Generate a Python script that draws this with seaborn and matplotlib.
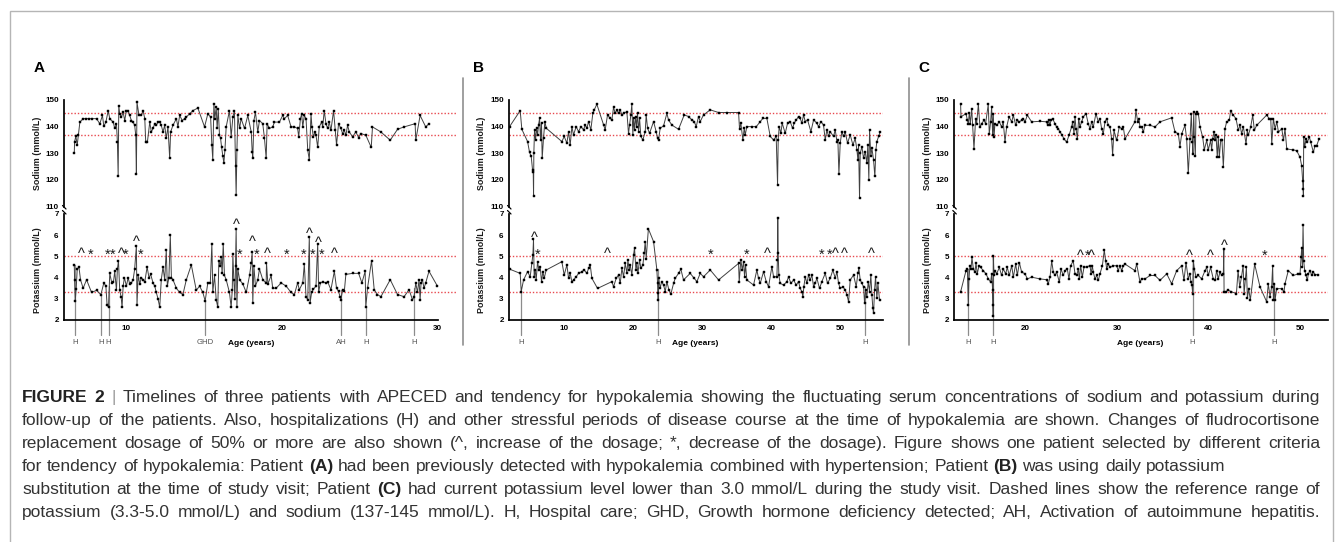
import matplotlib
matplotlib.use("Agg")
import matplotlib.pyplot as plt
import matplotlib.transforms as mtransforms
from matplotlib.lines import Line2D
from matplotlib.patches import Rectangle
import seaborn as sns
import pandas as pd

# ---------------- DATA ----------------
# Patient A
a_na_age = [6.66,6.68,6.76,6.85,6.93,7.02,7.23,7.40,7.60,7.79,8.09,8.30,8.47,8.56,8.69,8.84,8.94,9.16,9.26,9.37,9.43,9.48,9.52,9.58,9.69,9.80,9.90,10.01,10.12,10.22,10.33,10.44,10.54,10.61,10.65,10.69,10.82,10.97,11.08,11.19,11.25,11.36,11.51,11.61,11.72,11.83,11.93,12.04,12.15,12.25,12.36,12.47,12.57,12.68,12.79,12.85,13.00,13.22,13.32,13.43,13.60,13.75,13.86,14.07,14.28,14.60,15.03,15.24,15.42,15.50,15.56,15.63,15.69,15.78,15.84,15.91,15.99,16.06,16.12,16.21,16.27,16.34,16.42,16.63,16.74,16.85,16.95,17.02,17.06,17.11,17.17,17.28,17.38,17.60,17.81,18.03,18.09,18.13,18.20,18.30,18.45,18.56,18.77,18.88,18.99,19.05,19.20,19.41,19.52,19.84,20.05,20.16,20.37,20.59,20.80,21.01,21.08,21.19,21.27,21.34,21.44,21.55,21.66,21.76,21.87,21.93,22.02,22.13,22.19,22.30,22.40,22.55,22.62,22.72,22.83,22.94,23.04,23.15,23.32,23.43,23.51,23.64,23.79,23.90,24.01,24.11,24.22,24.33,24.54,24.75,24.93,25.07,25.39,25.74,25.82,26.36,26.96,27.43,27.85,28.56,28.60,28.88,29.24,29.45]
a_na = [130,134.3,136.4,133.1,137,141.7,143,143,143,143,143,141.1,144.2,140.1,141.7,146,143,141.7,139.3,141.1,134.3,121.4,147.9,144.8,143.6,145.4,142.3,146,146,144.2,142.3,141.7,140.5,136.8,122.3,149.1,144.2,144.2,146,143,134.3,134.3,141.7,138,139.3,141.1,140.5,141.7,141.7,140.5,138,140.5,135.6,139.9,128.1,138,140.5,143,139.9,144.2,142.3,143,143.6,144.8,146,147,139.9,144.8,143.6,133.1,127.5,148.5,143,147.3,139.3,146.7,136.8,135.6,132.5,128.8,126.3,131.2,139.9,146,136.2,143.6,146,125.1,114.2,131.2,144.2,139.3,143,139.3,144.2,138,130.6,128.1,142.3,145.4,138,142.3,141.1,135.6,128.1,141.1,139.3,139.9,141.7,141.7,144.2,143,144.2,139.9,139.9,139.3,136.2,143,144.8,139.9,144.2,143,131.2,127.5,144.8,139.9,136.2,138,136.8,132.2,139.9,141.7,139.9,146,141.1,139.3,141.7,138.6,146,138.6,133.1,141.1,139.3,137.4,138.6,136.8,140.5,138,136.2,138,135.9,137.4,136.8,132.2,139.9,138,134.9,139,139.9,141.1,134.9,144.2,139.9,141.1]
a_k_age = [6.66,6.68,6.72,6.78,6.85,6.96,7.06,7.23,7.45,7.77,8.09,8.37,8.56,8.69,8.77,8.86,8.94,9.07,9.18,9.26,9.37,9.43,9.50,9.58,9.67,9.73,9.80,9.88,10.01,10.12,10.22,10.33,10.44,10.54,10.65,10.69,10.76,10.87,10.97,11.08,11.19,11.34,11.46,11.57,11.72,11.83,11.93,12.04,12.15,12.25,12.36,12.47,12.57,12.64,12.74,12.83,12.90,13.00,13.22,13.43,13.64,13.86,14.18,14.50,14.71,14.92,15.07,15.24,15.40,15.50,15.56,15.67,15.78,15.88,15.95,16.04,16.10,16.16,16.23,16.31,16.42,16.63,16.74,16.81,16.85,16.91,16.98,17.02,17.06,17.11,17.17,17.28,17.49,17.71,17.92,18.03,18.09,18.13,18.20,18.30,18.45,18.56,18.77,18.99,19.01,19.10,19.31,19.41,19.63,19.95,20.27,20.59,20.80,21.01,21.12,21.34,21.44,21.55,21.66,21.76,21.81,21.91,22.02,22.19,22.30,22.36,22.47,22.62,22.83,22.94,23.15,23.37,23.51,23.64,23.73,23.79,23.90,24.01,24.11,24.54,24.93,25.14,25.35,25.39,25.50,25.76,25.93,26.14,26.36,26.96,27.43,27.85,28.17,28.39,28.49,28.60,28.71,28.81,28.88,28.94,29.03,29.13,29.24,29.45,29.99]
a_k = [4.6,3.9,2.9,3.45,4.4,4.5,3.9,3.5,3.9,3.3,3.4,3.2,3.75,3.6,2.7,2.6,4.2,3.75,3.8,4.3,3.4,4.4,4.8,3.4,3.1,2.6,3.6,4.0,3.6,4.0,3.7,3.75,3.9,4.4,5.5,2.7,4.1,3.7,4.0,3.9,3.8,4.5,4.0,4.15,3.75,3.6,3.3,3.0,2.6,3.9,4.5,3.9,5.3,3.6,4.0,6.0,4.0,3.9,3.5,3.3,3.2,3.9,4.6,3.4,3.6,3.3,2.9,3.75,3.75,5.6,3.3,4.1,2.95,2.6,4.8,4.55,4.95,4.2,5.6,4.1,3.9,3.3,2.6,3.4,5.1,3.9,3.0,4.55,6.3,2.6,4.4,3.9,3.7,3.3,4.1,4.7,5.2,2.8,4.55,3.6,3.9,4.4,3.9,3.75,4.7,3.7,4.1,3.5,3.5,3.75,3.6,3.3,3.2,3.75,3.43,3.75,4.63,3.1,2.95,5.9,2.8,3.3,3.45,3.6,5.6,3.3,3.75,3.8,3.75,3.8,3.43,4.3,3.5,3.35,3.1,2.95,3.43,3.35,4.15,4.2,4.2,3.75,4.3,2.6,3.5,4.8,3.43,3.2,3.1,3.9,3.2,3.1,3.43,2.95,3.1,3.75,3.3,3.9,2.95,3.75,3.9,3.5,3.75,4.3,3.6]
a_event_age = [6.72, 8.37, 8.86, 15.07, 23.79, 25.39, 28.49]
a_event_top = [4.6, 3.2, 3.6, 2.9, 3.4, 2.6, 3.5]
a_event_lab = ["H", "H", "H", "GHD", "AH", "H", "H"]
a_sym = ["^","*","*","*","^","*","^","*","^","*","^","*","^","*","*","^","*","^","*","^"]
a_sym_age = [7.1,7.7,8.8,9.1,9.7,9.95,10.65,10.93,17.06,17.3,18.09,18.35,19.09,20.3,21.4,21.76,22.0,22.36,22.55,23.37]
a_sym_k = [5.3,5.3,5.3,5.3,5.3,5.3,5.9,5.3,6.7,5.3,5.9,5.3,5.3,5.3,5.3,6.25,5.3,5.85,5.3,5.3]

# Patient B
b_na_age = [2.08,3.62,3.86,4.69,4.98,5.22,5.41,5.51,5.56,5.60,5.70,5.85,5.99,6.14,6.28,6.43,6.57,6.71,6.81,7.00,7.20,7.40,9.66,10.00,10.39,10.63,10.87,11.11,11.35,11.74,12.08,12.42,12.80,13.04,13.29,13.53,13.86,14.15,14.35,14.73,15.70,15.94,16.28,16.67,16.91,17.15,17.39,17.63,17.87,18.12,18.36,18.60,19.08,19.32,19.47,19.66,19.80,19.95,20.05,20.19,20.34,20.48,20.63,20.77,20.92,21.11,21.40,21.74,21.88,22.08,22.37,22.95,23.33,23.53,23.67,23.91,24.40,24.88,25.12,25.60,26.57,27.39,28.02,28.50,28.84,29.13,29.47,29.71,30.19,31.16,32.37,33.57,35.27,35.41,35.60,35.89,36.09,36.23,36.47,37.20,37.83,38.41,38.79,39.37,39.86,40.34,40.72,40.92,41.01,41.16,41.40,41.59,42.03,42.37,42.75,43.09,43.33,43.62,43.96,44.20,44.44,44.69,44.93,45.27,45.75,46.14,46.62,46.86,47.20,47.58,47.83,48.07,48.31,48.55,49.03,49.28,49.52,49.66,49.81,50.00,50.24,50.48,50.72,51.06,51.45,51.84,52.17,52.42,52.56,52.66,52.80,52.90,53.14,53.38,53.62,53.86,54.00,54.15,54.25,54.44,54.59,54.83,55.02,55.17,55.31,55.56,55.80]
b_na = [140,146,139,134.4,130.3,128.8,123.8,122.9,114,130,138.8,135,139.4,136.9,140.6,143.1,135,141.3,128.1,135.6,141.9,139.4,134.4,136.3,133.8,138.1,133.1,140,136.9,140,138.1,140,138.8,140.6,139.4,141.9,138.8,145,146.3,148.4,140.6,138.8,144.4,143.1,142.5,147.3,145,146.3,145,146.3,144.4,145,145.6,137.3,140.6,144.4,148.4,136.9,143.1,138.8,143.8,140,145,138.1,143.1,136.3,135,138.1,144.4,139.4,137.5,141.9,138.1,135.6,135,139.4,140.3,145,142.5,140.6,139,144.4,143.8,142.5,141.9,140,143.8,141.9,144.4,146.3,145.3,145.3,145.3,139,141.3,135,139.4,136.9,140,140,140,141.9,143.1,143.1,136.3,135,136.3,118.1,135,140,137.5,141.3,137.5,141.3,141.9,139.4,141.3,142.5,143.8,143.1,141.3,144.4,141.9,142.5,138.1,142.5,141.3,140,141.9,140.6,135,138.8,136.3,138.1,136.3,138.8,134.4,135,122.1,133.8,138.1,136.3,138.1,133.8,136.9,133.1,135.6,131.3,127.5,133.1,113.1,130,132.5,128.1,130.6,126.3,133.1,120,138.8,128.8,131.9,127.5,121.3,131.3,134.4,136.3,138.1]
b_k_age = [2.08,3.62,3.77,4.11,4.69,5.07,5.31,5.46,5.55,5.65,5.80,5.94,6.14,6.33,6.52,6.71,6.91,7.10,7.39,9.66,10.00,10.39,10.63,10.87,11.11,11.35,11.74,12.08,12.56,12.90,13.29,13.53,13.77,14.01,14.83,16.91,17.15,17.54,17.87,18.12,18.36,18.60,18.84,19.08,19.23,19.42,19.57,19.80,20.05,20.19,20.39,20.53,20.68,20.92,21.11,21.40,21.59,21.74,21.88,22.20,22.95,23.43,23.53,23.57,23.62,23.70,23.91,24.11,24.40,24.64,24.88,25.17,25.46,25.85,26.09,26.57,26.91,27.29,28.26,28.84,29.23,29.71,30.19,31.16,32.37,35.27,35.36,35.60,35.80,35.99,36.14,36.28,36.47,37.44,37.92,38.16,38.41,38.89,39.28,39.61,40.10,40.34,40.82,40.90,40.95,41.01,41.11,41.30,41.79,42.27,42.51,42.85,43.24,43.62,43.96,44.20,44.44,44.59,44.73,44.93,45.17,45.41,45.65,45.89,46.14,46.38,46.62,47.00,47.34,47.83,48.16,48.55,48.94,49.28,49.52,49.76,50.00,50.39,50.72,50.97,51.21,51.45,51.93,52.32,52.56,52.70,52.90,53.14,53.38,53.53,53.67,53.86,54.06,54.25,54.44,54.59,54.73,54.83,54.98,55.12,55.31,55.46,55.70]
b_k = [4.4,4.2,3.34,3.89,4.28,4.04,4.67,5.07,5.8,4.04,4.36,3.89,4.75,4.36,4.52,3.81,4.28,3.97,4.36,4.75,4.12,4.6,3.97,4.2,3.81,3.89,4.04,4.2,4.28,4.36,4.2,4.44,4.6,3.97,3.49,3.81,3.57,3.97,4.12,3.73,4.44,4.04,4.67,4.2,4.83,4.36,4.6,4.12,5.07,5.4,4.36,4.67,4.2,4.83,4.44,4.6,5.14,5.7,4.9,6.3,5.7,4.36,3.73,3.26,2.95,3.97,3.49,3.81,3.65,3.34,3.81,3.42,3.23,3.73,3.97,4.2,4.39,3.89,4.2,3.97,3.81,4.2,4.04,4.36,3.89,4.67,3.81,4.83,4.36,4.75,4.04,4.6,3.89,3.65,4.36,3.97,3.73,4.28,3.81,3.57,4.52,4.04,4.04,4.83,6.8,5.14,4.12,3.73,3.65,3.81,4.04,3.73,3.89,3.65,3.81,3.49,3.34,3.1,3.57,4.04,3.73,4.12,3.89,4.12,3.57,3.73,3.97,3.49,3.81,4.2,3.73,3.97,4.36,3.97,4.28,3.73,3.49,3.57,3.42,3.18,2.86,3.89,4.12,3.57,4.2,4.44,3.89,3.73,3.57,2.78,3.42,3.1,3.81,3.34,4.12,3.18,2.55,2.31,3.42,4.04,3.02,3.73,2.94]
b_event_age = [3.74, 23.57, 53.62]
b_event_top = [3.34, 4.4, 3.57]
b_event_lab = ["H", "H", "H"]
b_sym = ["^","*","^","*","*","^","*","*","^","^","^"]
b_sym_age = [5.7,6.14,16.28,31.26,36.38,39.47,47.34,48.5,49.28,50.6,54.49]
b_sym_k = [6.1,5.3,5.3,5.3,5.3,5.3,5.3,5.3,5.3,5.3,5.3]

# Patient C
c_na_age = [12.89,12.93,13.48,13.63,13.73,13.84,13.95,14.10,14.20,14.35,14.53,14.64,14.83,15.00,15.19,15.44,15.62,15.91,16.02,16.17,16.28,16.39,16.46,16.54,16.64,16.83,17.12,17.37,17.55,17.74,17.92,18.18,18.47,18.65,18.91,19.09,19.31,19.56,19.74,19.93,20.18,20.65,21.56,22.29,22.40,22.51,22.66,22.76,22.95,23.20,23.38,23.57,23.75,24.00,24.18,24.48,24.73,25.02,25.13,25.28,25.39,25.50,25.65,25.79,25.93,26.12,26.30,26.59,26.84,27.03,27.21,27.39,27.68,27.94,28.12,28.30,28.48,28.67,28.85,29.03,29.21,29.39,29.50,29.65,29.94,30.23,30.49,30.67,30.85,31.94,32.05,32.24,32.38,32.49,32.67,32.86,33.04,33.59,34.13,34.68,35.95,36.32,36.68,36.86,37.05,37.41,37.59,37.77,37.96,38.10,38.21,38.28,38.36,38.43,38.54,38.61,38.68,38.87,39.05,39.34,39.52,39.78,39.96,40.21,40.32,40.43,40.58,40.69,40.80,40.94,41.05,41.16,41.31,41.45,41.60,41.78,41.96,42.25,42.40,42.69,42.98,43.24,43.42,43.60,43.79,44.08,44.22,44.33,44.59,44.81,44.99,45.24,46.33,46.63,46.78,46.89,47.07,47.26,47.44,47.62,47.99,48.17,48.34,48.53,49.18,49.61,49.98,50.16,50.27,50.31,50.35,50.38,50.49,50.64,50.78,51.00,51.15,51.44,51.62,51.80,52.06]
c_na = [148.4,143.7,144.9,142.4,141.1,145.2,141.1,146.8,140.5,131.6,143,141.1,148.4,139.9,141.1,142.4,141.1,148.4,137.3,141.8,147.5,136.7,144.9,136.1,141.1,140.5,141.8,139.9,141.8,134.2,139.9,143.7,141.8,144.3,140.5,142.4,141.8,142.4,143,141.8,144.3,141.8,142,141.8,140.5,142.4,140.5,142.4,143,141.1,139.9,139.2,138,136.7,135.4,134.2,136.7,139.9,141.8,137.3,143.7,139.2,135.4,143,139.9,141.8,143.7,144.9,141.1,139.2,141.8,139.9,144.9,141.8,143,139.2,137.3,141.8,143,140.5,139.9,135.4,129.4,138.6,134.8,139.9,139.2,139.9,135.4,141.8,146.2,141.8,143,139.9,139.9,138,140.5,140.5,139.9,141.8,143.3,138,137.3,132.5,137.3,140.5,135.4,122.4,135.4,144.9,134.2,129.7,145.6,136.1,129.1,144.9,145.6,144.9,139.9,136.1,131.3,134.8,131.3,134.8,131.3,135.4,138,134.8,136.7,128.5,136.1,128.5,134.8,134.8,124.7,139.2,141.8,142.4,146,144.3,143,138.6,140.5,137.3,139.9,133.5,138.6,136.7,139.9,144.3,138.6,140.5,144.3,143,143,133.5,143,139.2,141.8,138,139.2,134.8,139.2,131.6,131.3,131,128.5,125.3,119.6,116.5,113.9,136.1,132.3,135.4,134.2,136.1,134.2,130.4,132.9,132.9,135.4]
c_k_age = [12.89,13.48,13.63,13.73,13.80,13.91,14.02,14.13,14.28,14.46,14.57,14.71,14.90,15.08,15.37,15.66,15.92,16.17,16.28,16.39,16.43,16.45,16.46,16.54,16.64,16.83,17.12,17.37,17.55,17.81,17.99,18.21,18.47,18.65,18.91,19.09,19.31,19.56,19.93,20.18,20.65,21.56,22.29,22.47,22.66,22.84,23.02,23.20,23.38,23.68,23.86,24.11,24.29,24.55,24.73,24.91,25.20,25.39,25.57,25.75,25.86,26.01,26.19,26.37,26.66,27.03,27.14,27.28,27.39,27.57,27.76,27.94,28.12,28.38,28.59,28.74,28.85,29.03,29.21,29.58,29.94,30.12,30.30,30.49,30.67,30.85,31.94,32.13,32.49,32.67,33.04,33.59,34.13,34.68,35.41,35.95,36.50,37.05,37.30,37.52,37.77,37.96,38.06,38.17,38.25,38.32,38.43,38.61,38.87,39.23,39.60,39.78,39.96,40.21,40.50,40.69,40.87,41.05,41.23,41.42,41.60,41.65,41.68,41.86,42.12,42.48,43.03,43.21,43.39,43.58,43.76,43.87,44.01,44.12,44.23,44.37,44.55,45.02,45.61,46.33,46.51,46.70,46.88,46.99,47.07,47.18,47.25,47.43,47.98,48.23,48.34,48.70,49.25,49.80,49.98,50.09,50.16,50.24,50.31,50.38,50.49,50.64,50.78,50.89,51.07,51.26,51.44,51.62,51.98]
c_k = [3.33,4.33,4.41,2.7,3.94,4.56,4.41,4.95,4.41,4.26,4.71,4.18,4.56,4.48,4.33,4.18,3.94,3.79,4.18,3.41,2.71,2.2,5.0,4.1,4.33,4.18,4.48,4.1,4.41,4.18,4.48,4.1,4.56,4.02,4.64,4.1,4.71,4.26,4.18,3.94,4.02,3.94,3.9,3.71,4.02,4.79,4.26,4.1,4.26,3.79,4.41,4.1,4.33,4.41,3.94,4.56,4.79,4.18,4.1,4.41,3.94,4.56,4.02,4.48,4.51,4.56,4.18,4.56,4.26,3.94,4.1,3.87,4.18,4.56,5.3,4.79,4.41,4.64,4.48,4.56,4.56,4.33,4.56,4.33,4.56,4.64,4.33,4.64,3.79,3.94,3.94,4.1,4.1,3.87,4.18,3.71,4.33,4.56,3.87,4.71,3.94,4.18,3.79,3.63,3.25,4.79,4.41,4.02,4.1,3.94,4.33,4.48,4.1,4.48,3.94,3.87,4.33,3.94,4.26,4.1,4.18,5.33,3.33,3.33,3.41,3.33,3.25,4.33,3.56,4.02,4.56,3.25,3.94,4.48,3.02,3.48,2.94,4.64,3.56,2.86,3.71,3.1,3.56,4.56,2.94,3.71,2.94,3.48,3.48,3.33,3.71,4.33,4.1,4.18,4.18,4.95,5.4,4.48,6.5,4.79,4.33,4.1,3.87,4.18,4.33,4.1,4.26,4.14,4.14]
c_event_age = [13.73, 16.46, 38.25, 47.14]
c_event_top = [4.4, 5.0, 4.79, 3.71]
c_event_lab = ["H", "H", "H", "H"]
c_sym = ["^","*","^","^","^","^","*"]
c_sym_age = [25.93,26.77,27.21,37.88,40.21,41.69,46.15]
c_sym_k = [5.25,5.25,5.25,5.25,5.25,5.72,5.25]

na_ticks = [110, 120, 130, 140, 150]
k_ticks = [2, 3, 4, 5, 6, 7]
na_ref = [137, 145]
k_ref = [3.3, 5.0]

caption_lines = [
    [("FIGURE 2", "b"), ("|", "g"), ("Timelines of three patients with APECED and tendency for hypokalemia showing the fluctuating serum concentrations of sodium and potassium during", "n")],
    [("follow-up of the patients. Also, hospitalizations (H) and other stressful periods of disease course at the time of hypokalemia are shown. Changes of fludrocortisone", "n")],
    [("replacement dosage of 50% or more are also shown (^, increase of the dosage; *, decrease of the dosage). Figure shows one patient selected by different criteria", "n")],
    [("for tendency of hypokalemia: Patient", "n"), ("(A)", "b"), ("had been previously detected with hypokalemia combined with hypertension; Patient", "n"), ("(B)", "b"), ("was using daily potassium", "n")],
    [("substitution at the time of study visit; Patient", "n"), ("(C)", "b"), ("had current potassium level lower than 3.0 mmol/L during the study visit. Dashed lines show the reference range of", "n")],
    [("potassium (3.3-5.0 mmol/L) and sodium (137-145 mmol/L). H, Hospital care; GHD, Growth hormone deficiency detected; AH, Activation of autoimmune hepatitis.", "n")],
]

# ---------------- STYLE / LAYOUT ----------------
sns.set_theme(style="white")
plt.rcParams["font.family"] = ["Liberation Sans", "DejaVu Sans"]

W, H = 1342, 542
fig = plt.figure(figsize=(W / 100, H / 100), dpi=100)
fig.patch.set_facecolor("white")

def fx(x): return x / W
def fy(y): return 1 - y / H

NA_TOP, NA_BOT, K_TOP, K_BOT = 100, 206.5, 214, 320
TICK_FS = 5.8
RED = "#e8494f"
LINE_C = "#404040"

panels = [
    dict(letter="A", lx=39, left=64, right=457, xlim=(6, 31.25), xb=(6, 30), tick0=6, tick1=30, step=2,
         major=[10, 20, 30], agex=251,
         na_age=a_na_age, na=a_na, k_age=a_k_age, k=a_k,
         ev_age=a_event_age, ev_top=a_event_top, ev_lab=a_event_lab,
         sym=a_sym, sym_age=a_sym_age, sym_k=a_sym_k),
    dict(letter="B", lx=479, left=509, right=883, xlim=(2, 56.2), xb=(2, 56.2), tick0=2, tick1=56, step=1,
         major=[10, 20, 30, 40, 50], agex=695,
         na_age=b_na_age, na=b_na, k_age=b_k_age, k=b_k,
         ev_age=b_event_age, ev_top=b_event_top, ev_lab=b_event_lab,
         sym=b_sym, sym_age=b_sym_age, sym_k=b_sym_k),
    dict(letter="C", lx=924, left=954.3, right=1328.3, xlim=(12.2, 53.07), xb=(12.2, 53.07), tick0=13, tick1=53, step=1,
         major=[20, 30, 40, 50], agex=1140,
         na_age=c_na_age, na=c_na, k_age=c_k_age, k=c_k,
         ev_age=c_event_age, ev_top=c_event_top, ev_lab=c_event_lab,
         sym=c_sym, sym_age=c_sym_age, sym_k=c_sym_k),
]

def style_axis(ax):
    ax.set_facecolor("none")
    for s in ["top", "right"]:
        ax.spines[s].set_visible(False)
    for s in ["left", "bottom"]:
        ax.spines[s].set_linewidth(1.25)
        ax.spines[s].set_color("black")
    ax.tick_params(axis="both", which="both", direction="out", length=2.3, width=0.9,
                   color="black", pad=1.5, labelsize=TICK_FS, labelcolor="black")
    for lab in ax.get_yticklabels() + ax.get_xticklabels():
        lab.set_fontweight("bold")
    ax.grid(False)

def draw_series(ax, xs, ys):
    df = pd.DataFrame({"age": xs, "val": ys})
    sns.lineplot(data=df, x="age", y="val", ax=ax, sort=False, estimator=None,
                 color=LINE_C, lw=0.7, marker="s", markersize=1.5,
                 markerfacecolor="black", markeredgecolor="black", markeredgewidth=0.3)
    ax.set_xlabel("")
    ax.set_ylabel("")

for p in panels:
    L, R = p["left"], p["right"]
    ax_na = fig.add_axes([fx(L), fy(NA_BOT), (R - L) / W, (NA_BOT - NA_TOP) / H])
    ax_k = fig.add_axes([fx(L), fy(K_BOT), (R - L) / W, (K_BOT - K_TOP) / H])

    for r in na_ref:
        ax_na.axhline(r, color=RED, lw=1.0, ls=(0, (1, 1.4)), zorder=1)
    for r in k_ref:
        ax_k.axhline(r, color=RED, lw=1.0, ls=(0, (1, 1.4)), zorder=1)

    draw_series(ax_na, p["na_age"], p["na"])
    draw_series(ax_k, p["k_age"], p["k"])

    ax_na.set_xlim(*p["xlim"]); ax_k.set_xlim(*p["xlim"])
    ax_na.set_ylim(110, 150); ax_k.set_ylim(2, 7)
    ax_na.set_yticks(na_ticks); ax_na.set_yticklabels([str(t) for t in na_ticks])
    ax_k.set_yticks(k_ticks); ax_k.set_yticklabels([str(t) for t in k_ticks])
    ax_na.set_xticks([])
    ticks = list(range(p["tick0"], p["tick1"] + 1, p["step"]))
    ax_k.set_xticks(ticks)
    ax_k.set_xticklabels([str(t) if t in p["major"] else "" for t in ticks])
    style_axis(ax_na); style_axis(ax_k)
    ax_na.spines["bottom"].set_visible(False)
    ax_na.spines["left"].set_bounds(110, 150)
    ax_k.spines["left"].set_bounds(2, 7)
    ax_k.spines["bottom"].set_bounds(*p["xb"])
    ax_na.tick_params(axis="x", length=0)

    # axis break marks
    for yy in (205.5, 210.5):
        fig.add_artist(Line2D([fx(L - 1.5), fx(L + 2.0)], [fy(yy), fy(yy + 3.5)],
                              color="black", lw=0.9))

    # event lines and labels
    kpp = 5.0 / (K_BOT - K_TOP)
    bottom_val = 2 - (335 - K_BOT) * kpp
    trans = mtransforms.blended_transform_factory(ax_k.transData, fig.transFigure)
    for ea, et, el in zip(p["ev_age"], p["ev_top"], p["ev_lab"]):
        ax_k.plot([ea, ea], [et, bottom_val], color="#8c8c8c", lw=0.9, clip_on=False, zorder=0)
        ax_k.text(ea, fy(343), el, transform=trans, ha="center", va="center",
                  fontsize=5.6, color="#555555")
    fig.text(fx(p["agex"]), fy(343.5), "Age (years)", ha="center", va="center",
             fontsize=6.0, fontweight="bold", color="black")

    # dosage change symbols
    for s, sa, sk in zip(p["sym"], p["sym_age"], p["sym_k"]):
        off = mtransforms.offset_copy(ax_k.transData, fig=fig, x=0, y=-3.2, units="points")
        ax_k.text(sa, sk, s, transform=off, ha="center", va="center", fontsize=10.5,
                  color="#1a1a1a", clip_on=False)

    # axis titles
    fig.text(fx(L - 27), fy(153), "Sodium (mmol/L)", rotation=90, ha="center", va="center",
             fontsize=6.4, fontweight="bold", color="#1a1a1a")
    fig.text(fx(L - 27), fy(270), "Potassium (mmol/L)", rotation=90, ha="center", va="center",
             fontsize=6.4, fontweight="bold", color="#1a1a1a")

    # panel letter
    fig.text(fx(p["lx"]), fy(68), p["letter"], ha="center", va="center",
             fontsize=11, fontweight="bold", color="black")

# separators
for sx in (463, 909):
    fig.add_artist(Line2D([fx(sx), fx(sx)], [fy(78), fy(345)], color="#8f8f8f", lw=1.2))

# frame
fig.add_artist(Rectangle((fx(9.5), fy(560)), (1332.5 - 9.5) / W, (560 - 10.5) / H,
                         transform=fig.transFigure, fill=False, edgecolor="#b5b5b5", lw=1.0))

# ---------------- CAPTION ----------------
renderer = fig.canvas.get_renderer()
CAP_FS = 12.5
CAP_X0 = 22
CAP_Y0 = 397
CAP_DY = 23
justify = [1320, 1320, 1320, None, 1320, 1320]

def measure(t):
    return t.get_window_extent(renderer=renderer).width

probe_a = fig.text(0, 0, "x x", fontsize=CAP_FS)
probe_b = fig.text(0, 0, "xx", fontsize=CAP_FS)
space_w = measure(probe_a) - measure(probe_b)
probe_a.remove(); probe_b.remove()

for i, segs in enumerate(caption_lines):
    y = CAP_Y0 + i * CAP_DY + 4.7   # baseline
    words = []
    for text, st in segs:
        for w in text.split(" "):
            if w:
                words.append((w, st))
    arts, widths = [], []
    for w, st in words:
        kw = dict(fontsize=CAP_FS, va="baseline", ha="left", color="#333333")
        if st == "b":
            kw["fontweight"] = "bold"
            kw["color"] = "#222222"
        if st == "g":
            kw["color"] = "#9a9a9a"
        t = fig.text(0, fy(y), w, **kw)
        arts.append(t)
        widths.append(measure(t))
    if justify[i] is not None and len(words) > 1:
        gap = (justify[i] - CAP_X0 - sum(widths)) / (len(words) - 1)
    else:
        gap = space_w
    x = CAP_X0
    for t, wd in zip(arts, widths):
        t.set_x(fx(x))
        x += wd + gap

fig.savefig("out.png", dpi=100, facecolor="white")
